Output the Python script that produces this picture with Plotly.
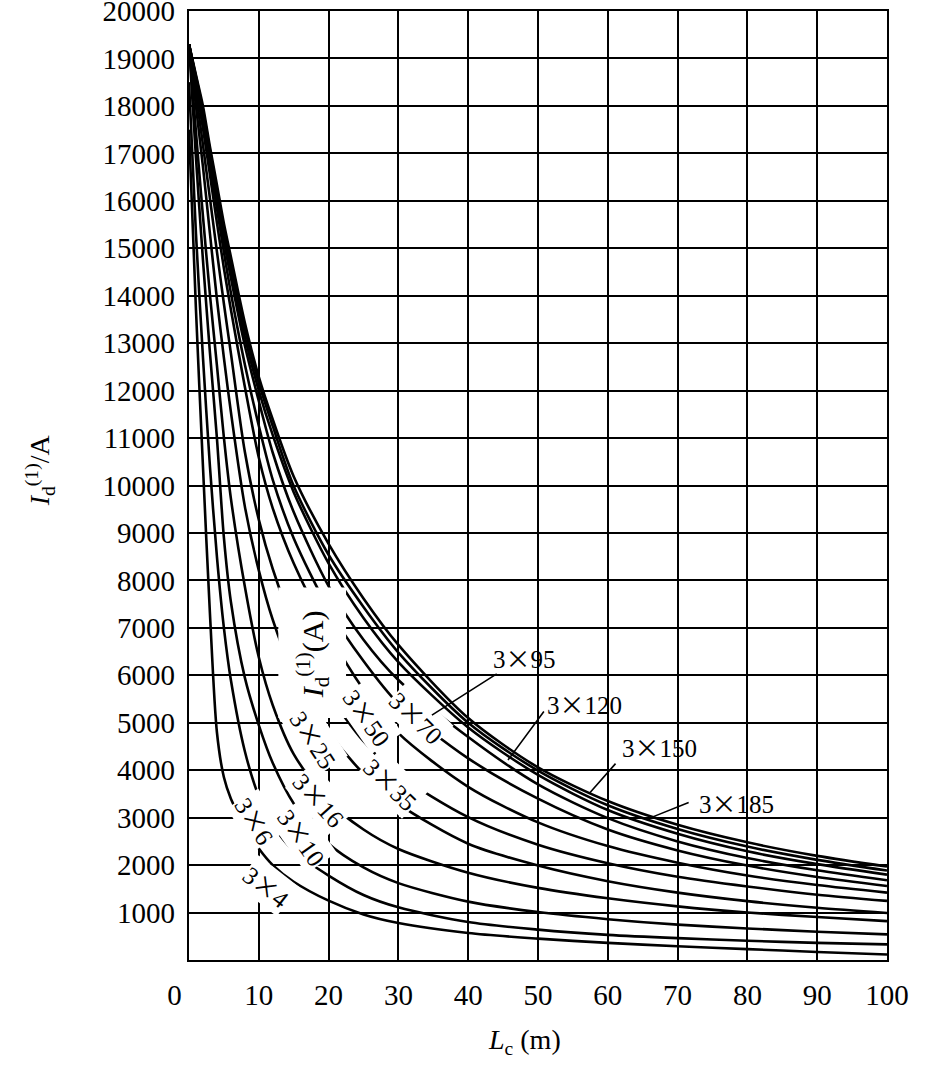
import plotly.graph_objects as go

# === DATA ===
# cable length L_c in metres
length_m = [0, 1, 2, 3, 4, 5, 6, 8, 10, 12, 15, 20, 25, 30, 40, 50, 60, 70, 80, 90, 100]

# single-phase short-circuit current I_d(1) in A, one list per cable section
i_3x4 = [17500, 13700, 10400, 7300, 4800, 3850, 3400, 2800, 2350, 2000, 1650, 1250, 960, 780, 570, 450, 360, 290, 230, 170, 115]
i_3x6 = [18500, 15300, 12700, 10400, 8500, 7000, 5900, 4400, 3450, 2850, 2300, 1780, 1370, 1110, 800, 640, 530, 460, 405, 360, 330]
i_3x10 = [19300, 16900, 14750, 12800, 11000, 8900, 7550, 5950, 4950, 4150, 3300, 2450, 1950, 1620, 1230, 1010, 860, 745, 665, 595, 540]
i_3x16 = [19300, 17450, 15670, 14020, 12530, 11010, 9730, 7870, 6380, 5370, 4340, 3340, 2750, 2340, 1840, 1520, 1300, 1130, 1000, 905, 820]
i_3x25 = [19300, 17990, 16720, 15310, 13930, 12690, 11550, 9560, 8210, 7170, 6030, 4810, 3930, 3290, 2450, 1990, 1660, 1420, 1240, 1100, 990]
i_3x35 = [19300, 18250, 17180, 16050, 14930, 13830, 12790, 10710, 9280, 8240, 7050, 5620, 4610, 3910, 3010, 2430, 2040, 1755, 1550, 1375, 1245]
i_3x50 = [19300, 18440, 17530, 16550, 15540, 14580, 13710, 12080, 10590, 9520, 8360, 6900, 5700, 4780, 3650, 2900, 2400, 2050, 1780, 1580, 1420]
i_3x70 = [19300, 18520, 17720, 16760, 15840, 14920, 14060, 12550, 11260, 10120, 8890, 7400, 6300, 5400, 4250, 3400, 2750, 2310, 1990, 1750, 1560]
i_3x95 = [19300, 18560, 17800, 16910, 16060, 15160, 14380, 12950, 11780, 10690, 9440, 7880, 6750, 5900, 4700, 3700, 2990, 2500, 2150, 1890, 1680]
i_3x120 = [19300, 18590, 17860, 16990, 16150, 15310, 14540, 13130, 12000, 11060, 9860, 8360, 7210, 6280, 4900, 3900, 3160, 2660, 2290, 2020, 1800]
i_3x150 = [19300, 18620, 17910, 17060, 16240, 15420, 14710, 13310, 12160, 11250, 9990, 8540, 7440, 6480, 5000, 3990, 3260, 2760, 2390, 2110, 1885]
i_3x185 = [19300, 18650, 18000, 17140, 16340, 15520, 14820, 13430, 12290, 11390, 10190, 8770, 7620, 6640, 5100, 4060, 3350, 2850, 2480, 2195, 1970]

curves = {
    '3×4': i_3x4, '3×6': i_3x6, '3×10': i_3x10, '3×16': i_3x16,
    '3×25': i_3x25, '3×35': i_3x35, '3×50': i_3x50, '3×70': i_3x70,
    '3×95': i_3x95, '3×120': i_3x120, '3×150': i_3x150, '3×185': i_3x185,
}

y_ticks = list(range(1000, 20001, 1000))
x_ticks = list(range(0, 101, 10))

# in-line labels: (section, x, y, angle)
inline_labels = [
    ('4', 11.3, 1560, 38),
    ('6', 9.6, 2950, 58),
    ('10', 16.4, 2600, 55),
    ('16', 18.8, 3400, 48),
    ('25', 18.0, 4650, 57),
    ('35', 29.0, 3720, 44),
    ('50', 25.7, 5120, 55),
    ('70', 32.8, 5120, 44),
]

# labels with leader lines: (section, label x, y, line start x, y, line end x, y)
leader_labels = [
    ('95', 48.1, 6390, 44.3, 6050, 34.8, 5160),
    ('120', 56.6, 5420, 51.0, 5270, 45.7, 4215),
    ('150', 67.4, 4510, 61.3, 4170, 57.4, 3520),
    ('185', 78.5, 3330, 71.8, 3330, 66.0, 2990),
]

FONT = 'Liberation Serif, Times New Roman, serif'
CROSS = "<span style='font-family:Noto Sans CJK SC'>×</span>"


def cable_text(section):
    return '3' + CROSS + section


fig = go.Figure()

for name, vals in curves.items():
    fig.add_trace(go.Scatter(
        x=length_m, y=vals, name=name, mode='lines',
        line=dict(color='black', width=2.6, shape='spline', smoothing=0.8),
        showlegend=False, hoverinfo='skip'
    ))

# white box behind the rotated I_d(1)(A) label
fig.add_shape(type='rect', x0=12.8, x1=22.5, y0=5100, y1=7850,
              fillcolor='white', line=dict(width=0), layer='above')
fig.add_annotation(x=17.8, y=6450, text='<i>I</i><sub>d</sub><sup>(1)</sup>(A)',
                   showarrow=False, textangle=-90,
                   font=dict(family=FONT, size=30, color='black'))

# === CURVE LABELS ===
for sec, x, y, ang in inline_labels:
    fig.add_annotation(x=x, y=y, text=cable_text(sec), showarrow=False, textangle=ang,
                       font=dict(family=FONT, size=25, color='black'),
                       bgcolor='white', borderpad=0)

for sec, lx, ly, x0, y0, x1, y1 in leader_labels:
    fig.add_annotation(x=x1, y=y1, ax=x0, ay=y0, axref='x', ayref='y',
                       text='', showarrow=True, arrowhead=0, arrowwidth=1.6,
                       arrowcolor='black')
    fig.add_annotation(x=lx, y=ly, text=cable_text(sec), showarrow=False,
                       font=dict(family=FONT, size=25, color='black'))

# === AXIS TITLES ===
fig.add_annotation(x=0.481, y=-0.0864, xref='paper', yref='paper',
                   xanchor='center', yanchor='middle',
                   text='<i>L</i><sub>c</sub> (m)', showarrow=False,
                   font=dict(family=FONT, size=28, color='black'))
fig.add_annotation(x=-0.2135, y=0.516, xref='paper', yref='paper',
                   xanchor='center', yanchor='middle',
                   text='<i>I</i><sub>d</sub><sup>(1)</sup>/A', showarrow=False,
                   textangle=-90, font=dict(family=FONT, size=28, color='black'))

# the "0" label sits a little left of the origin in the original
x_text = [str(v) for v in x_ticks]
x_text[0] = '0' + '\u00a0' * 4

fig.update_xaxes(
    range=[0, 100], tickvals=x_ticks, ticktext=x_text,
    showgrid=True, gridcolor='black', gridwidth=1.6,
    showline=True, linecolor='black', linewidth=2.2, mirror=True,
    zeroline=False, ticks='', ticklabelstandoff=8, ticklabeloverflow='allow',
    automargin=False,
    tickfont=dict(family=FONT, size=29, color='black')
)
fig.update_yaxes(
    range=[0, 20000], tickvals=y_ticks, ticktext=[str(v) for v in y_ticks],
    showgrid=True, gridcolor='black', gridwidth=1.6,
    showline=True, linecolor='black', linewidth=2.2, mirror=True,
    zeroline=False, ticks='', ticklabelstandoff=6, ticklabeloverflow='allow',
    automargin=False,
    tickfont=dict(family=FONT, size=29, color='black')
)

fig.update_layout(
    width=935, height=1066,
    margin=dict(l=189, r=48, t=11, b=106),
    plot_bgcolor='white', paper_bgcolor='white',
    font=dict(family=FONT, color='black')
)

# drop the default 8 px page margin so the figure fills the window
fig.write_html("out.html", config={'displayModeBar': False},
               post_script="document.body.style.margin='0';")
